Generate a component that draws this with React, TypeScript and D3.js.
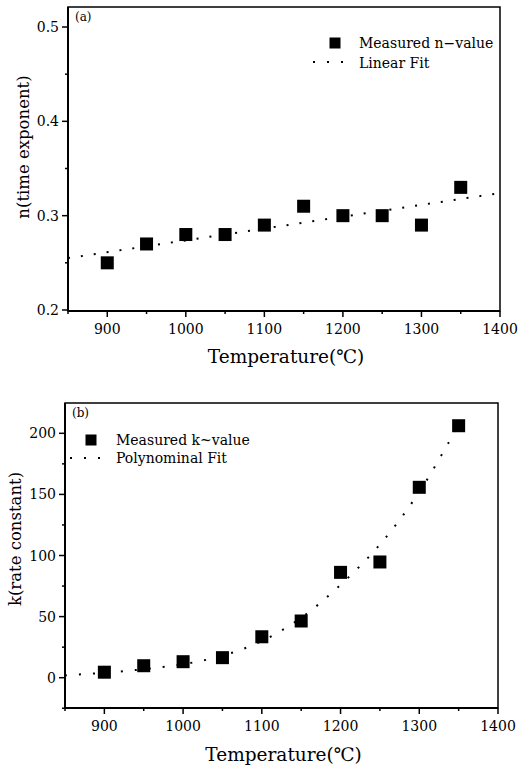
import React from "react";
import * as d3 from "d3";

const temps = [900, 950, 1000, 1050, 1100, 1150, 1200, 1250, 1300, 1350];
const nValues = [0.25, 0.27, 0.28, 0.28, 0.29, 0.31, 0.3, 0.3, 0.29, 0.33];
const nFitX = [850, 1400];
const nFitY = [0.255, 0.324];
const kValues = [4.5, 9.8, 13.1, 16.4, 33.5, 46.4, 86.2, 94.7, 155.8, 206.2];
const kFitX = [850, 900, 950, 1000, 1050, 1100, 1150, 1200, 1250, 1300, 1350];
const kFitY = [2, 4, 7, 11, 18, 30, 49, 76, 109, 152, 207];
const xTicks = [900, 1000, 1100, 1200, 1300, 1400];
const xMinor = [850, 950, 1050, 1150, 1250, 1350];
const nTicks = [0.2, 0.3, 0.4, 0.5];
const nMinor = [0.25, 0.35, 0.45];
const kTicks = [0, 50, 100, 150, 200];
const kMinor = [-25, 25, 75, 125, 175];

const FONT = "'DejaVu Serif', serif";

type PanelProps = {
  left: number; right: number; top: number; bottom: number;
  yDomain: [number, number]; yRange: [number, number];
  yTicks: number[]; yMinor: number[]; fmt: (v: number) => string;
  values: number[]; fitX: number[]; fitY: number[]; curved: boolean; dash: string;
  tag: string; yLabel: string; yLabelX: number; yLabelY: number;
  xLabelY: number;
  legend: { sqX: number; sqY: number; textX: number; t1Y: number; t2Y: number; lineX1: number; lineX2: number; lineY: number; t1: string; t2: string };
};

function Panel(p: PanelProps) {
  const x = d3.scaleLinear().domain([850, 1400]).range([p.left, p.right]);
  const y = d3.scaleLinear().domain(p.yDomain).range(p.yRange);
  const line = d3.line<number>()
    .x((_, i) => x(p.fitX[i]))
    .y((d) => y(d))
    .curve(p.curved ? d3.curveCatmullRom : d3.curveLinear);
  const sq = 13;
  return (
    <g>
      <rect x={p.left} y={p.top} width={p.right - p.left} height={p.bottom - p.top} fill="none" stroke="#000" strokeWidth={1.5} />
      <line x1={p.left} x2={p.left} y1={p.top} y2={p.bottom} stroke="#000" strokeWidth={2} />
      <line x1={p.left} x2={p.right} y1={p.bottom} y2={p.bottom} stroke="#000" strokeWidth={2} />
      {xTicks.map((t) => (
        <g key={"xt" + t}>
          <line x1={x(t)} x2={x(t)} y1={p.bottom} y2={p.bottom + 6} stroke="#000" strokeWidth={1.5} />
          <text x={x(t)} y={p.bottom + 23} textAnchor="middle" fontSize={14} fontFamily={FONT}>{t}</text>
        </g>
      ))}
      {xMinor.map((t) => (
        <line key={"xm" + t} x1={x(t)} x2={x(t)} y1={p.bottom} y2={p.bottom + 3} stroke="#000" strokeWidth={1.5} />
      ))}
      {p.yTicks.map((t) => (
        <g key={"yt" + t}>
          <line x1={p.left - 6} x2={p.left} y1={y(t)} y2={y(t)} stroke="#000" strokeWidth={1.5} />
          <text x={p.left - 9} y={y(t)} dy="0.36em" textAnchor="end" fontSize={14} fontFamily={FONT}>{p.fmt(t)}</text>
        </g>
      ))}
      {p.yMinor.map((t) => (
        <line key={"ym" + t} x1={p.left - 3} x2={p.left} y1={y(t)} y2={y(t)} stroke="#000" strokeWidth={1.5} />
      ))}
      <path d={line(p.fitY) || ""} fill="none" stroke="#000" strokeWidth={2} strokeDasharray={p.dash} />
      {p.values.map((v, i) => (
        <rect key={"pt" + i} x={x(temps[i]) - sq / 2} y={y(v) - sq / 2} width={sq} height={sq} fill="#000" />
      ))}
      <text x={p.left + 7} y={p.top + 14} fontSize={12} fontFamily={FONT}>{p.tag}</text>
      <rect x={p.legend.sqX - 5.5} y={p.legend.sqY - 5.5} width={11} height={11} fill="#000" />
      <text x={p.legend.textX} y={p.legend.t1Y} fontSize={14} fontFamily={FONT}>{p.legend.t1}</text>
      <line x1={p.legend.lineX1} x2={p.legend.lineX2} y1={p.legend.lineY} y2={p.legend.lineY} stroke="#000" strokeWidth={2} strokeDasharray="2 12" />
      <text x={p.legend.textX} y={p.legend.t2Y} fontSize={14} fontFamily={FONT}>{p.legend.t2}</text>
      <text transform={`translate(${p.yLabelX},${p.yLabelY}) rotate(-90)`} textAnchor="middle" fontSize={16.5} fontFamily={FONT}>{p.yLabel}</text>
      <text x={(p.left + p.right) / 2 + 2} y={p.xLabelY} textAnchor="middle" fontSize={18.5} fontFamily={FONT}>Temperature(℃)</text>
    </g>
  );
}

export default function App() {
  return (
    <svg width={519} height={767} style={{ position: "absolute", left: 0, top: 0, background: "#fff" }}>
      <rect width={519} height={767} fill="#fff" />
      <Panel
        left={68} right={500} top={7} bottom={311}
        yDomain={[0.2, 0.5]} yRange={[310, 27]}
        yTicks={nTicks} yMinor={nMinor} fmt={(v) => v.toFixed(1)}
        values={nValues} fitX={nFitX} fitY={nFitY} curved={false} dash="2 11"
        tag="(a)" yLabel="n(time exponent)" yLabelX={29} yLabelY={147}
        xLabelY={363}
        legend={{ sqX: 335, sqY: 43, textX: 359, t1Y: 48, t2Y: 68, lineX1: 313, lineX2: 345, lineY: 62, t1: "Measured n−value", t2: "Linear Fit" }}
      />
      <Panel
        left={65} right={498} top={403} bottom={708}
        yDomain={[0, 200]} yRange={[677.7, 433.3]}
        yTicks={kTicks} yMinor={kMinor} fmt={(v) => String(v)}
        values={kValues} fitX={kFitX} fitY={kFitY} curved={true} dash="2 12"
        tag="(b)" yLabel="k(rate constant)" yLabelX={21} yLabelY={539}
        xLabelY={761}
        legend={{ sqX: 91, sqY: 440, textX: 116, t1Y: 445, t2Y: 463, lineX1: 70, lineX2: 102, lineY: 458, t1: "Measured k~value", t2: "Polynominal Fit" }}
      />
    </svg>
  );
}
